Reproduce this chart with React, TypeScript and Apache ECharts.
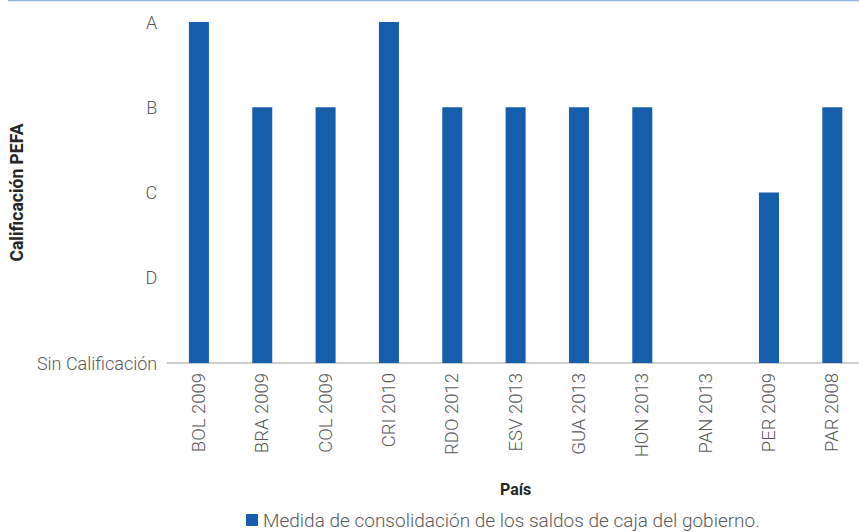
import React, { useEffect, useRef } from "react";
import * as echarts from "echarts";

const categories = ["BOL 2009", "BRA 2009", "COL 2009", "CRI 2010", "RDO 2012", "ESV 2013", "GUA 2013", "HON 2013", "PAN 2013", "PER 2009", "PAR 2008"];
const values = [4, 3, 3, 4, 3, 3, 3, 3, 0, 2, 3];
const yLabels = ["Sin Calificación", "D", "C", "B", "A"];
const seriesName = "Medida de consolidación de los saldos de caja del gobierno.";

const FONT = "Roboto";

export default function App() {
  const ref = useRef<HTMLDivElement>(null);
  useEffect(() => {
    if (!ref.current) return;
    const chart = echarts.init(ref.current, null, { renderer: "svg" });
    chart.setOption({
      animation: false,
      graphic: [
        {
          type: "line",
          shape: { x1: 8, y1: 0.5, x2: 880, y2: 0.5 },
          style: { stroke: "#8DB3E2", lineWidth: 1.5 },
        },
      ],
      grid: { left: 165, top: 22, width: 699, height: 341 },
      legend: {
        left: 246,
        top: 509,
        padding: 0,
        itemWidth: 12,
        itemHeight: 12,
        itemGap: 8,
        icon: "rect",
        textStyle: { fontFamily: FONT, fontWeight: 300, fontSize: 19, lineHeight: 22, color: "#595959" },
        data: [seriesName],
      },
      xAxis: {
        type: "category",
        data: categories,
        name: "País",
        nameLocation: "middle",
        nameGap: 118,
        nameTextStyle: { fontFamily: FONT, fontWeight: "bold", fontSize: 16, color: "#262626" },
        axisLine: { lineStyle: { color: "#BFBFBF", width: 1.5 } },
        axisTick: { show: false },
        axisLabel: { rotate: 90, margin: 10, fontFamily: FONT, fontWeight: 300, fontSize: 18.5, color: "#595959" },
      },
      yAxis: {
        type: "value",
        min: 0,
        max: 4,
        interval: 1,
        name: "Calificación PEFA",
        nameLocation: "middle",
        nameGap: 135,
        nameTextStyle: { fontFamily: FONT, fontWeight: "bold", fontSize: 17.5, color: "#262626" },
        splitLine: { show: false },
        axisLine: { show: false },
        axisTick: { show: false },
        axisLabel: {
          margin: 10,
          fontFamily: FONT,
          fontWeight: 300,
          fontSize: 18,
          color: "#595959",
          formatter: (v: number) => yLabels[v] ?? "",
        },
      },
      series: [
        {
          name: seriesName,
          type: "bar",
          data: values,
          barWidth: 20,
          itemStyle: { color: "#155EAB" },
        },
      ],
    });
    return () => chart.dispose();
  }, []);
  return (
    <div style={{ position: "fixed", left: 0, top: 0, width: 859, height: 532, overflow: "hidden", background: "#fff" }}>
      <div ref={ref} style={{ width: 880, height: 532 }} />
    </div>
  );
}
